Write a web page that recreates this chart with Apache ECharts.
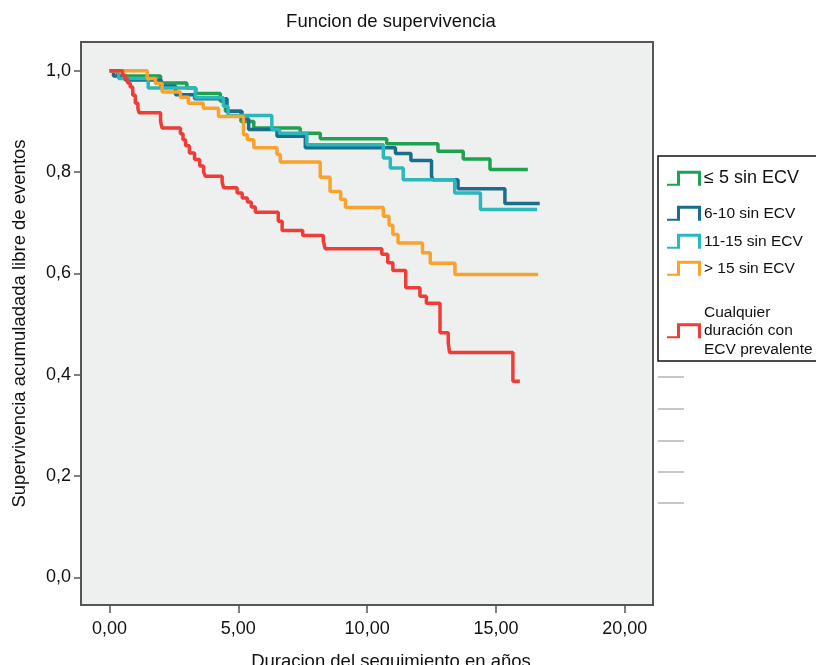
<!DOCTYPE html>
<html>
<head>
<meta http-equiv="Content-Type" content="text/html; charset=UTF-8">
<title>Funcion de supervivencia</title>
<script type="text/javascript" src="https://cdn.jsdelivr.net/npm/echarts@6/dist/echarts.min.js"></script>
<style>
    html, body { margin: 0; padding: 0; background: #fff; }
</style>
</head>
<body>
    <div id="main" style="width: 816px; height: 665px;"></div>
    <script type="text/javascript">
        // tiempos (años) y supervivencia acumulada de cada grupo, ultimo punto = fin del seguimiento
        var tGreen = [0, 0.3, 1.98, 3.0, 3.35, 4.3, 4.5, 5.1, 5.6, 7.4, 8.18, 10.76, 12.75, 13.73, 14.77, 16.24];
        var sGreen = [1.0, 0.99, 0.976, 0.966, 0.955, 0.94, 0.92, 0.9, 0.887, 0.877, 0.866, 0.856, 0.841, 0.826, 0.805, 0.805];

        var tBlue = [0, 0.15, 0.6, 2.0, 2.56, 3.3, 4.56, 5.14, 5.4, 6.5, 7.6, 11.1, 11.7, 12.5, 12.56, 13.53, 15.35, 16.7];
        var sBlue = [1.0, 0.99, 0.982, 0.97, 0.953, 0.945, 0.92, 0.905, 0.884, 0.871, 0.848, 0.837, 0.823, 0.792, 0.785, 0.767, 0.738, 0.738];

        var tTeal = [0, 0.35, 1.5, 3.33, 4.42, 4.6, 6.3, 6.6, 7.66, 10.63, 10.9, 11.4, 13.4, 14.4, 16.6];
        var sTeal = [1.0, 0.985, 0.966, 0.947, 0.93, 0.912, 0.884, 0.877, 0.854, 0.828, 0.808, 0.785, 0.759, 0.726, 0.726];

        var tOrange = [0, 1.46, 1.78, 2.04, 2.75, 3.06, 3.64, 4.23, 5.2, 5.35, 5.6, 6.5, 6.63, 8.18, 8.56, 8.97, 9.16, 10.63, 10.85, 11.0, 11.2, 12.15, 12.45, 13.41, 16.64];
        var sOrange = [1.0, 0.985, 0.975, 0.958, 0.948, 0.936, 0.926, 0.91, 0.874, 0.864, 0.848, 0.835, 0.82, 0.79, 0.762, 0.746, 0.73, 0.713, 0.695, 0.677, 0.66, 0.641, 0.62, 0.598, 0.598];

        var tRed = [0, 0.5, 0.6, 0.7, 0.8, 0.9, 1.0, 1.1, 1.15, 1.98, 2.04, 2.75, 2.85, 2.95, 3.1, 3.3, 3.5, 3.65, 3.72, 4.37, 4.43, 4.95, 5.15, 5.35, 5.5, 5.66, 6.55, 6.7, 7.5, 8.3, 8.37, 10.57, 10.8, 11.0, 11.5, 12.05, 12.3, 12.83, 13.15, 13.2, 15.66, 15.93];
        var sRed = [1.0, 0.992, 0.984, 0.976, 0.968, 0.952, 0.936, 0.925, 0.917, 0.9, 0.887, 0.876, 0.864, 0.852, 0.838, 0.825, 0.812, 0.8, 0.792, 0.78, 0.769, 0.759, 0.749, 0.741, 0.731, 0.721, 0.703, 0.685, 0.675, 0.664, 0.649, 0.638, 0.621, 0.606, 0.572, 0.555, 0.541, 0.483, 0.463, 0.444, 0.387, 0.387];

        var groupNames = ['≤ 5 sin ECV', '6-10 sin ECV', '11-15 sin ECV', '> 15 sin ECV', 'Cualquier duración con ECV prevalente'];
        var groupColors = ['#1fa24f', '#1a6e8c', '#2bb8bd', '#f9a22c', '#ee3c36'];
        var yTicks = [0, 0.2, 0.4, 0.6, 0.8, 1.0];
        var xTicks = [0, 5, 10, 15, 20];

        var font = 'Arial, "Liberation Sans", sans-serif';
        var stepIcon = 'path://M0,13 L10,13 L10,0 L34,0 L34,15 L31,15 L31,3 L13,3 L13,15 L0,15 Z';

        function pairs(ts, ss) {
            var out = [];
            for (var i = 0; i < ts.length; i++) {
                out.push([ts[i], ss[i]]);
            }
            return out;
        }
        var allT = [tGreen, tBlue, tTeal, tOrange, tRed];
        var allS = [sGreen, sBlue, sTeal, sOrange, sRed];

        var series = [];
        for (var k = 0; k < groupNames.length; k++) {
            series.push({
                name: groupNames[k],
                type: 'line',
                step: 'end',
                showSymbol: false,
                symbol: 'none',
                animation: false,
                lineStyle: { color: groupColors[k], width: 3.5 },
                itemStyle: { color: groupColors[k] },
                data: pairs(allT[k], allS[k])
            });
        }

        // una leyenda por grupo para fijar la altura de cada entrada
        var legendTops = [169, 204, 232, 259, 303];
        var legendSizes = [18, 15.5, 15.5, 15.5, 15.5];
        var legends = [];
        for (var j = 0; j < groupNames.length; j++) {
            legends.push({
                data: [groupNames[j]],
                left: 667,
                top: legendTops[j],
                orient: 'vertical',
                icon: stepIcon,
                itemWidth: 34,
                itemHeight: 15,
                itemGap: 0,
                padding: 0,
                selectedMode: false,
                formatter: function (name) {
                    return name.replace(' duración', '\nduración').replace('con ECV', 'con\nECV');
                },
                textStyle: {
                    fontFamily: font,
                    fontSize: legendSizes[j],
                    lineHeight: 18.5,
                    color: '#111',
                    padding: [0, 0, 0, -2]
                }
            });
        }

        var grayMarks = [377, 409, 441, 472, 503];
        var graphics = [{
            type: 'rect',
            silent: true,
            z: 1,
            shape: { x: 658, y: 156, width: 170, height: 205 },
            style: { fill: '#fff', stroke: '#111', lineWidth: 1.5 }
        }];
        grayMarks.forEach(function (y) {
            graphics.push({
                type: 'line',
                silent: true,
                shape: { x1: 658, y1: y, x2: 684, y2: y },
                style: { stroke: '#c8c8c8', lineWidth: 2 }
            });
        });

        var myChart = echarts.init(document.getElementById('main'));
        myChart.setOption({
            backgroundColor: '#fff',
            animation: false,
            textStyle: { fontFamily: font },
            title: [{
                text: 'Funcion de supervivencia',
                left: 386,
                textAlign: 'center',
                top: 7,
                textStyle: { fontFamily: font, fontSize: 18.5, fontWeight: 'normal', color: '#111' }
            }, {
                text: 'Duracion del seguimiento en años',
                left: 386,
                textAlign: 'center',
                top: 647,
                textStyle: { fontFamily: font, fontSize: 18.5, fontWeight: 'normal', color: '#111' }
            }],
            legend: legends,
            graphic: graphics,
            grid: {
                left: 81, right: 163, top: 42, bottom: 60,
                show: true,
                backgroundColor: '#eeefef',
                borderColor: '#555',
                borderWidth: 2
            },
            xAxis: {
                type: 'value',
                min: -1.11,
                max: 21.1,
                axisLine: { show: false, onZero: false },
                splitLine: { show: false },
                axisTick: { show: true, inside: false, customValues: xTicks, length: 8, lineStyle: { color: '#555', width: 1.5 } },
                axisLabel: {
                    customValues: xTicks,
                    margin: 15,
                    fontSize: 18,
                    fontFamily: font,
                    color: '#111',
                    formatter: function (v) { return v.toFixed(2).replace('.', ','); }
                }
            },
            yAxis: {
                type: 'value',
                min: -0.0545,
                max: 1.0569,
                name: 'Supervivencia acumuladada libre de eventos',
                nameLocation: 'middle',
                nameGap: 52,
                nameTextStyle: { fontFamily: font, fontSize: 18.5, color: '#111' },
                axisLine: { show: false, onZero: false },
                splitLine: { show: false },
                axisTick: { show: true, inside: false, customValues: yTicks, length: 7, lineStyle: { color: '#555', width: 1.5 } },
                axisLabel: {
                    customValues: yTicks,
                    margin: 10,
                    fontSize: 18,
                    fontFamily: font,
                    color: '#111',
                    formatter: function (v) { return v.toFixed(1).replace('.', ','); }
                }
            },
            series: series
        });
    </script>
</body>
</html>
